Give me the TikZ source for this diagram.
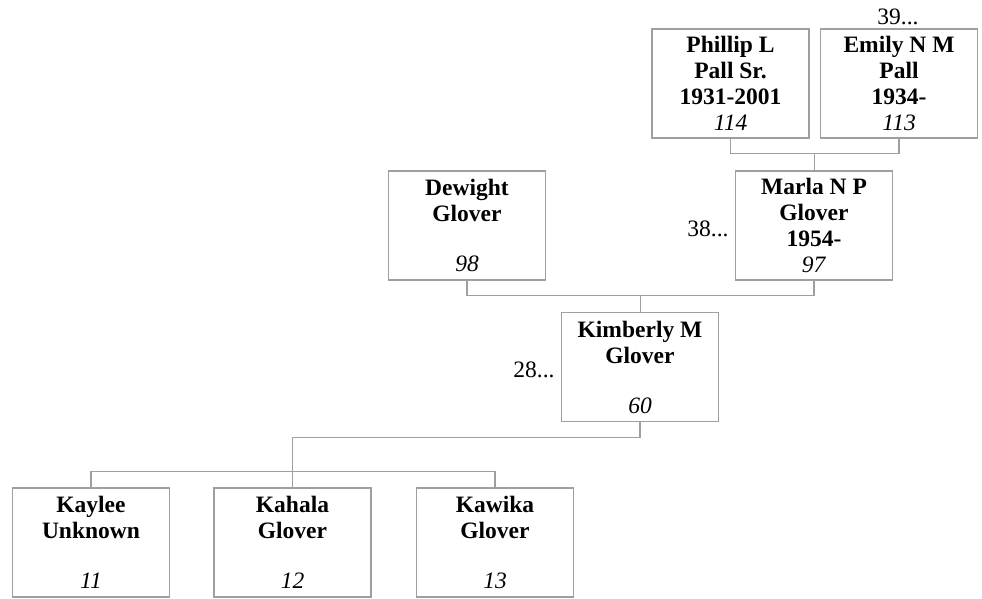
\documentclass[tikz,border=0pt]{standalone}
\usepackage{fontspec}
\setmainfont{Liberation Serif}
\usetikzlibrary{calc}

\begin{document}
\begin{tikzpicture}[x=1pt,y=-1pt,
    font=\fontsize{23.5}{26}\selectfont,
    person/.style={draw=gray!75, line width=1.3pt, fill=white,
      minimum width=157pt, minimum height=109pt, inner sep=0pt, align=center},
    link/.style={draw=gray!75, line width=1.3pt}]

		\useasboundingbox (0,0) rectangle (982,599);

		% grandparents
		\node[person] (Phillip) at (730.5,83.5) {\textbf{Phillip L}\\\textbf{Pall Sr.}\\\textbf{1931-2001}\\\textit{114}};
		\node[person] (Emily) at (899,83.5) {\textbf{Emily N M}\\\textbf{Pall}\\\textbf{1934-}\\\textit{113}};
		\node (more39) at (898,17) {39...};

		% parents
		\node[person] (Dewight) at (467,225.5) {\textbf{Dewight}\\\textbf{Glover}\\[24pt]\textit{98}};
		\node[person] (Marla) at (814,225.5) {\textbf{Marla N P}\\\textbf{Glover}\\\textbf{1954-}\\\textit{97}};
		\node (more38) at (708,229) {38...};

		% kimberly
		\node[person] (Kimberly) at (640,367) {\textbf{Kimberly M}\\\textbf{Glover}\\[24pt]\textit{60}};
		\node (more28) at (534,370) {28...};

		% children
		\node[person] (Kaylee) at (91,542.5) {\textbf{Kaylee}\\\textbf{Unknown}\\[24pt]\textit{11}};
		\node[person] (Kahala) at (292.5,542.5) {\textbf{Kahala}\\\textbf{Glover}\\[24pt]\textit{12}};
		\node[person] (Kawika) at (495,542.5) {\textbf{Kawika}\\\textbf{Glover}\\[24pt]\textit{13}};

		% couples
		\draw[link] (Phillip.south) -- ++(0,15) -| (Emily.south);
		\coordinate (GP) at ($ (Phillip.south)!0.5!(Emily.south) + (0,15) $);
		\draw[link] (GP) -- (GP |- Marla.north);

		\draw[link] (Dewight.south) -- ++(0,15) -| (Marla.south);
		\coordinate (P) at ($ (Dewight.south)!0.5!(Marla.south) + (0,15) $);
		\draw[link] (P) -- (P |- Kimberly.north);

		% children
		\draw[link] (Kimberly.south) -- ++(0,15) -| (Kahala.north);
		\draw[link] (Kaylee.north) -- ++(0,-16) -| (Kawika.north);

\end{tikzpicture}
\end{document}
